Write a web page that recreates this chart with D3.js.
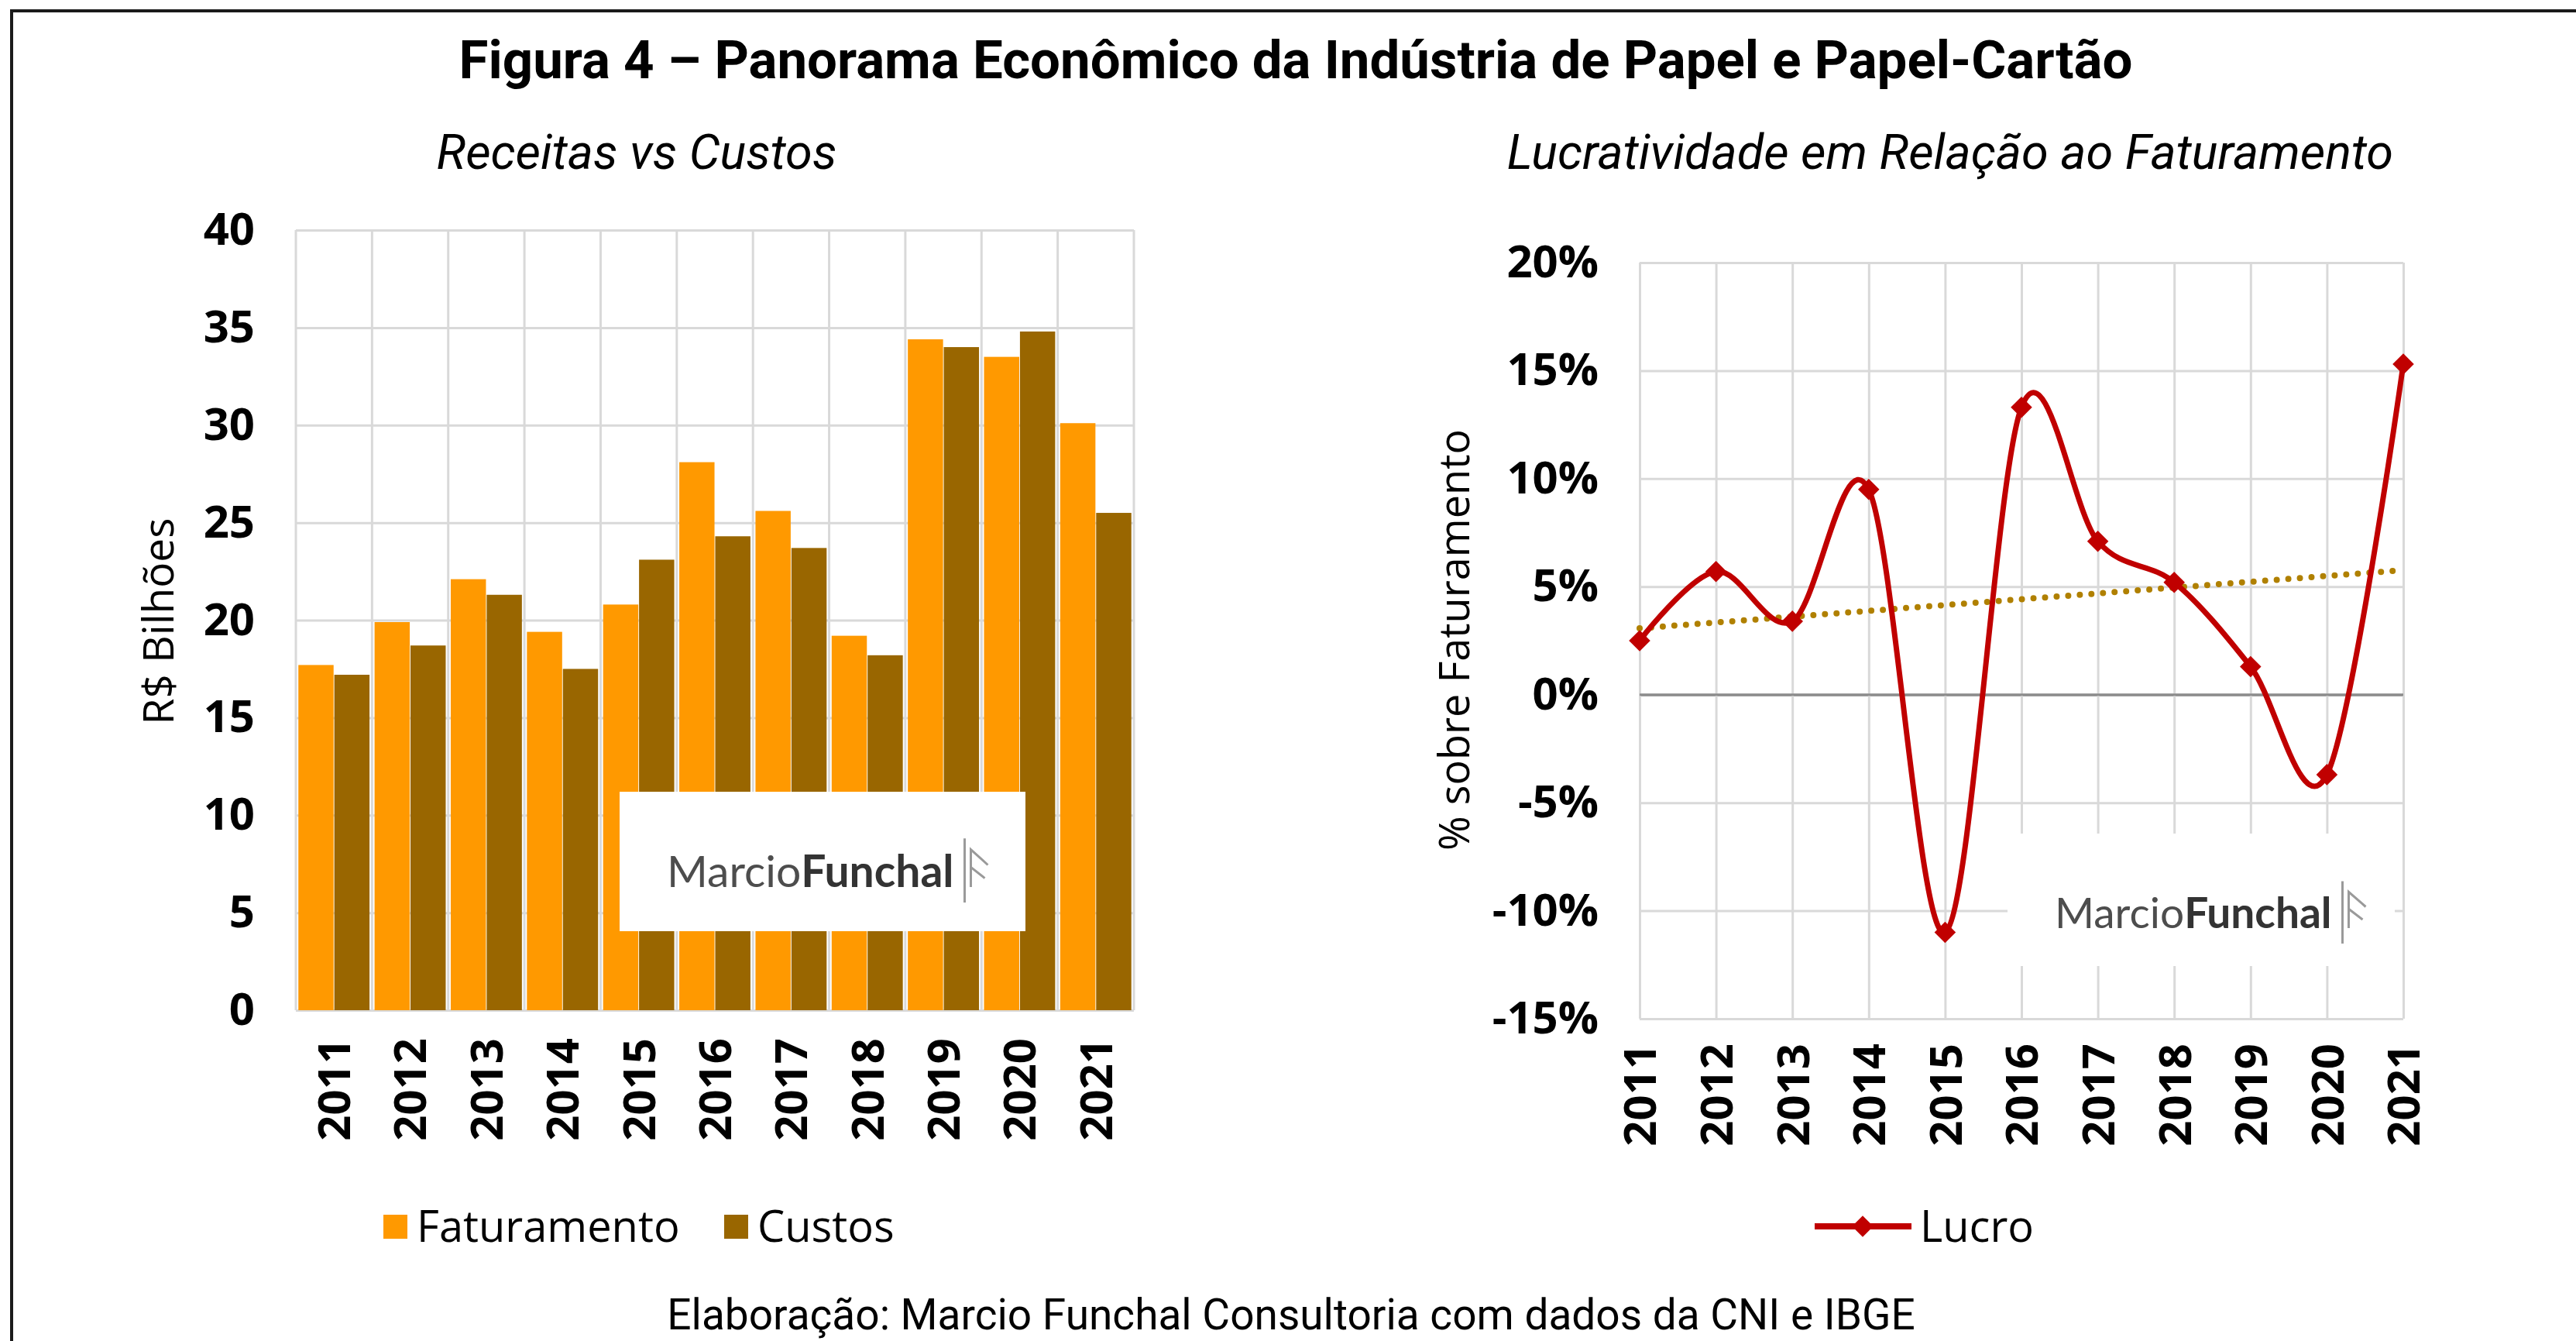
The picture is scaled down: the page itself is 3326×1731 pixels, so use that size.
<!DOCTYPE html>
<html>
<head>
<meta charset="utf-8">
<script src="https://cdn.jsdelivr.net/npm/d3@7"></script>
<style>
  body { margin: 0; background: #fff; }
</style>
</head>
<body>
<script>
const W = 3326;
const H = 1731;

// data
const years = ["2011", "2012", "2013", "2014", "2015", "2016", "2017", "2018", "2019", "2020", "2021"];
const faturamento = [17.7, 19.9, 22.1, 19.4, 20.8, 28.1, 25.6, 19.2, 34.4, 33.5, 30.1];
const custos = [17.2, 18.7, 21.3, 17.5, 23.1, 24.3, 23.7, 18.2, 34.0, 34.8, 25.5];
const lucro = [2.5, 5.7, 3.4, 9.5, -11.0, 13.3, 7.1, 5.2, 1.3, -3.7, 15.3];
const leftTicks = [0, 5, 10, 15, 20, 25, 30, 35, 40];
const rightTicks = [-15, -10, -5, 0, 5, 10, 15, 20];
const barSeries = ["Faturamento", "Custos"];
const barColors = ["#FF9900", "#996600"];

const tickFont = "'Open Sans', sans-serif";
const titleFont = "Roboto, sans-serif";

let svg = d3.select("body").append("svg").attr("width", W).attr("height", H);

svg.append("rect").attr("width", W).attr("height", H).attr("fill", "#fff");

// frame (only top and left visible)
svg.append("path")
  .attr("d", "M15," + H + "V14H" + W)
  .attr("fill", "none")
  .attr("stroke", "#1a1a1a")
  .attr("stroke-width", 4);

// titles
svg.append("text")
  .text("Figura 4 – Panorama Econômico da Indústria de Papel e Papel-Cartão")
  .attr("x", 1673).attr("y", 101)
  .attr("text-anchor", "middle")
  .attr("font-family", titleFont)
  .attr("font-weight", "bold")
  .attr("font-size", "69px");

svg.append("text")
  .text("Receitas vs Custos")
  .attr("x", 822).attr("y", 218)
  .attr("text-anchor", "middle")
  .attr("font-family", titleFont)
  .attr("font-style", "italic")
  .attr("font-size", "63px");

svg.append("text")
  .text("Lucratividade em Relação ao Faturamento")
  .attr("x", 2518).attr("y", 218)
  .attr("text-anchor", "middle")
  .attr("font-family", titleFont)
  .attr("font-style", "italic")
  .attr("font-size", "63px");

svg.append("text")
  .text("Elaboração: Marcio Funchal Consultoria com dados da CNI e IBGE")
  .attr("x", 1667).attr("y", 1716)
  .attr("text-anchor", "middle")
  .attr("font-family", titleFont)
  .attr("font-size", "55px");

// ---------- left chart: bars ----------
const L = { x0: 382, x1: 1464, y0: 297, y1: 1304 };

const xL = d3.scaleBand().domain(years).range([L.x0, L.x1]).padding(0);
const xSub = d3.scaleBand().domain(barSeries).range([0, xL.bandwidth()])
  .paddingInner(0.02).paddingOuter(0.07);
const yL = d3.scaleLinear().domain([0, 40]).range([L.y1, L.y0]);

let left = svg.append("g");

let yAxisL = left.append("g")
  .attr("transform", "translate(" + L.x0 + ",0)")
  .call(d3.axisLeft(yL).tickValues(leftTicks).tickSize(-(L.x1 - L.x0)).tickPadding(53));
yAxisL.select(".domain").remove();
yAxisL.selectAll("line").attr("stroke", "#d9d9d9").attr("stroke-width", 3);
yAxisL.selectAll("text")
  .attr("font-family", tickFont).attr("font-weight", "bold")
  .attr("font-size", "58px").attr("fill", "#000");

// vertical gridlines between categories
left.selectAll(".vgrid")
  .data(years.concat(["end"]))
  .enter()
  .append("line")
  .attr("x1", function (d) { return d === "end" ? L.x1 : xL(d); })
  .attr("x2", function (d) { return d === "end" ? L.x1 : xL(d); })
  .attr("y1", L.y0)
  .attr("y2", L.y1)
  .attr("stroke", "#d9d9d9")
  .attr("stroke-width", 3);

let groups = left.selectAll(".grp")
  .data(years)
  .enter()
  .append("g")
  .attr("transform", function (d) { return "translate(" + xL(d) + ",0)"; });

groups.selectAll("rect")
  .data(function (d, i) {
    return [
      { key: "Faturamento", value: faturamento[i] },
      { key: "Custos", value: custos[i] },
    ];
  })
  .enter()
  .append("rect")
  .attr("x", function (d) { return xSub(d.key); })
  .attr("width", xSub.bandwidth())
  .attr("y", function (d) { return yL(d.value); })
  .attr("height", function (d) { return yL(0) - yL(d.value); })
  .attr("fill", function (d, i) { return barColors[i]; });

let xAxisL = left.append("g")
  .attr("transform", "translate(0," + L.y1 + ")")
  .call(d3.axisBottom(xL).tickSize(0));
xAxisL.select(".domain").remove();
xAxisL.selectAll("text")
  .attr("transform", "rotate(-90)")
  .attr("text-anchor", "end")
  .attr("x", -36).attr("y", 0).attr("dy", "0.36em")
  .attr("font-family", tickFont).attr("font-weight", "bold")
  .attr("font-size", "58px").attr("fill", "#000");

left.append("text")
  .text("R$ Bilhões")
  .attr("transform", "translate(224,802) rotate(-90)")
  .attr("text-anchor", "middle")
  .attr("font-family", tickFont)
  .attr("font-size", "55px");

// ---------- right chart: profit line ----------
const R = { x0: 2117, x1: 3103, y0: 339, y1: 1315 };

const xR = d3.scalePoint().domain(years).range([R.x0, R.x1]);
const yR = d3.scaleLinear().domain([-15, 20]).range([R.y1, R.y0]);

let right = svg.append("g");

let yAxisR = right.append("g")
  .attr("transform", "translate(" + R.x0 + ",0)")
  .call(d3.axisLeft(yR).tickValues(rightTicks).tickSize(-(R.x1 - R.x0)).tickPadding(53)
    .tickFormat(function (d) { return d + "%"; }));
yAxisR.select(".domain").remove();
yAxisR.selectAll("line")
  .attr("stroke", function (d) { return d === 0 ? "#8c8c8c" : "#d9d9d9"; })
  .attr("stroke-width", 3);
yAxisR.selectAll("text")
  .attr("font-family", tickFont).attr("font-weight", "bold")
  .attr("font-size", "58px").attr("fill", "#000");

let xAxisR = right.append("g")
  .attr("transform", "translate(0," + R.y1 + ")")
  .call(d3.axisBottom(xR).tickSize(-(R.y1 - R.y0)));
xAxisR.select(".domain").remove();
xAxisR.selectAll("line").attr("stroke", "#d9d9d9").attr("stroke-width", 3);
xAxisR.selectAll("text")
  .attr("transform", "rotate(-90)")
  .attr("text-anchor", "end")
  .attr("x", -32).attr("y", 0).attr("dy", "0.36em")
  .attr("font-family", tickFont).attr("font-weight", "bold")
  .attr("font-size", "58px").attr("fill", "#000");

// zero line drawn on top of the vertical grid
right.append("line")
  .attr("x1", R.x0).attr("x2", R.x1)
  .attr("y1", yR(0)).attr("y2", yR(0))
  .attr("stroke", "#8c8c8c").attr("stroke-width", 3);

right.append("text")
  .text("% sobre Faturamento")
  .attr("transform", "translate(1897,826) rotate(-90)")
  .attr("text-anchor", "middle")
  .attr("font-family", tickFont)
  .attr("font-size", "54px");

// watermark boxes
function watermark(g, bx, by, bw, bh, tx, ty, size) {
  g.append("rect")
    .attr("x", bx).attr("y", by).attr("width", bw).attr("height", bh)
    .attr("fill", "#fff");
  let t = g.append("text")
    .attr("x", tx).attr("y", ty)
    .attr("font-family", "Lato, sans-serif")
    .attr("font-size", size + "px");
  t.append("tspan").text("Marcio").attr("fill", "#4d4d4d");
  t.append("tspan").text("Funchal").attr("fill", "#333").attr("font-weight", "bold");
  let w = t.node().getComputedTextLength();
  let lx = tx + w + 14;
  g.append("path")
    .attr("d", "M" + lx + "," + (ty + 20) + "V" + (ty - size * 1.1) +
      "M" + (lx + 8) + "," + (ty) + "V" + (ty - size * 0.85) +
      "L" + (lx + 30) + "," + (ty - size * 0.5) +
      "M" + (lx + 8) + "," + (ty - size * 0.45) + "L" + (lx + 26) + "," + (ty - size * 0.2))
    .attr("fill", "none")
    .attr("stroke", "#9a9a9a")
    .attr("stroke-width", 3);
}

watermark(left, 800, 1022, 524, 180, 861, 1145, 57);
watermark(right, 2592, 1076, 500, 171, 2653, 1198, 55);

// trend line (least squares over the data)
let n = lucro.length;
let meanX = (n - 1) / 2;
let meanY = d3.mean(lucro);
let sxy = d3.sum(lucro, function (d, i) { return (i - meanX) * (d - meanY); });
let sxx = d3.sum(lucro, function (d, i) { return (i - meanX) * (i - meanX); });
let slope = sxy / sxx;
let icpt = meanY - slope * meanX;

right.append("path")
  .attr("d", d3.line()([
    [xR(years[0]), yR(icpt)],
    [xR(years[n - 1]), yR(icpt + slope * (n - 1))],
  ]))
  .attr("fill", "none")
  .attr("stroke", "#B08000")
  .attr("stroke-width", 8)
  .attr("stroke-linecap", "round")
  .attr("stroke-dasharray", "0,15");

const lineFunc = d3.line()
  .x(function (d, i) { return xR(years[i]); })
  .y(function (d) { return yR(d); })
  .curve(d3.curveCatmullRom.alpha(0));

right.append("path")
  .attr("d", lineFunc(lucro))
  .attr("fill", "none")
  .attr("stroke", "#C00000")
  .attr("stroke-width", 7);

const diamond = d3.symbol().type(d3.symbolSquare).size(380);

right.selectAll(".marker")
  .data(lucro)
  .enter()
  .append("path")
  .attr("d", diamond)
  .attr("transform", function (d, i) {
    return "translate(" + xR(years[i]) + "," + yR(d) + ") rotate(45)";
  })
  .attr("fill", "#C00000");

// ---------- legends ----------
let legL = svg.append("g");
let legItems = [{ x: 495, tx: 538 }, { x: 935, tx: 978 }];
legL.selectAll("rect")
  .data(barSeries)
  .enter()
  .append("rect")
  .attr("x", function (d, i) { return legItems[i].x; })
  .attr("y", 1568)
  .attr("width", 31).attr("height", 31)
  .attr("fill", function (d, i) { return barColors[i]; });
legL.selectAll("text")
  .data(barSeries)
  .enter()
  .append("text")
  .text(function (d) { return d; })
  .attr("x", function (d, i) { return legItems[i].tx; })
  .attr("y", 1603)
  .attr("font-family", tickFont)
  .attr("font-size", "56px");

let legR = svg.append("g");
legR.append("line")
  .attr("x1", 2343).attr("x2", 2468)
  .attr("y1", 1583).attr("y2", 1583)
  .attr("stroke", "#C00000").attr("stroke-width", 8);
legR.append("path")
  .attr("d", diamond)
  .attr("transform", "translate(2405,1583) rotate(45)")
  .attr("fill", "#C00000");
legR.append("text")
  .text("Lucro")
  .attr("x", 2479).attr("y", 1603)
  .attr("font-family", tickFont)
  .attr("font-size", "56px");
</script>
</body>
</html>
